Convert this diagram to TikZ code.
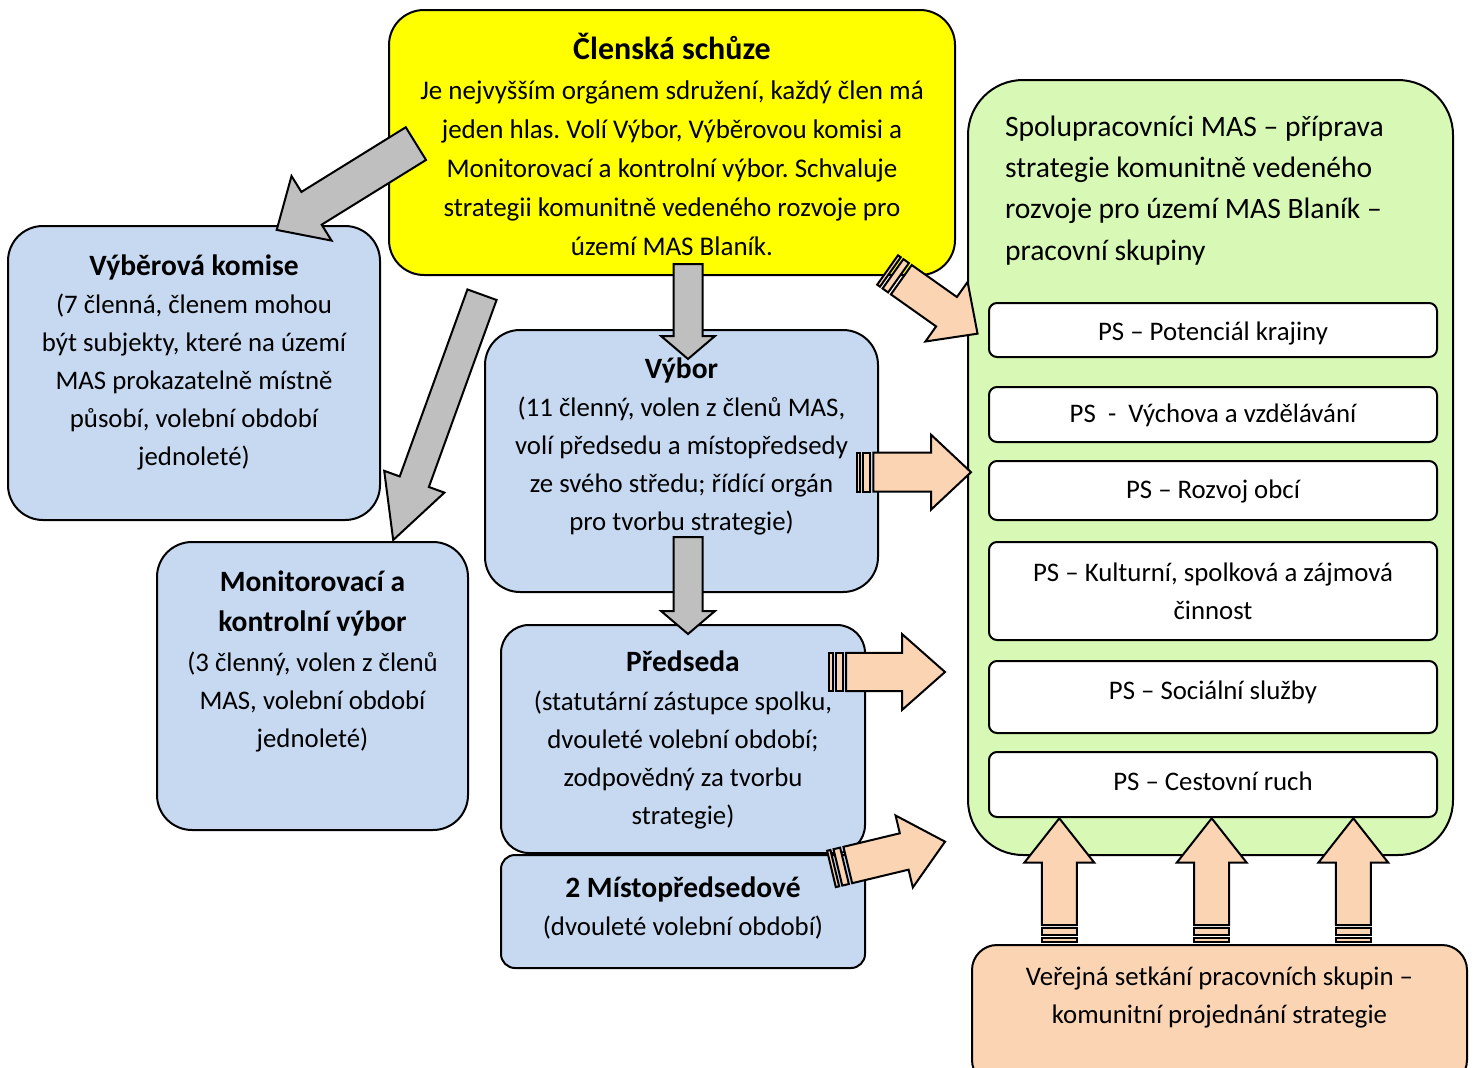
\documentclass[tikz,border=0pt]{standalone}
\usepackage{fontspec}
\setmainfont{Carlito}
\usetikzlibrary{positioning}
\frenchspacing

\definecolor{clyellow}{HTML}{FFFF00}
\definecolor{clblue}{HTML}{C6D9F1}
\definecolor{clgreen}{RGB}{216,249,181}
\definecolor{clpeach}{HTML}{FBD4B4}
\definecolor{clgray}{HTML}{BFBFBF}

% text set from the top of a box: height, width, top gap, text
\newcommand{\boxtext}[4]{\parbox[c][#1pt][t]{#2pt}{\centering\vspace{#3pt}\strut#4}}
\newcommand{\boxtitle}[1]{{\fontsize{29.5}{38}\selectfont\bfseries #1}}

\tikzset{
  box/.style={draw, line width=2pt, inner sep=0pt, font=\fontsize{26.8}{38}\selectfont},
  bluebox/.style={box, fill=clblue, rounded corners=35pt},
  psbox/.style={box, fill=white, rounded corners=8pt},
  garrow/.style={fill=clgray, line width=2pt},
  parrow/.style={fill=clpeach, line width=2pt},
  pics/blockarrow/.style n args={4}{code={
    \draw[pic actions] (0,-#2/2) -- (#1-#4,-#2/2) -- (#1-#4,-#3/2) -- (#1,0)
      -- (#1-#4,#3/2) -- (#1-#4,#2/2) -- (0,#2/2) -- cycle;
  }},
  pics/stripearrow/.style n args={4}{code={
    \draw[pic actions] (0,-#2/2) -- (#1-#4,-#2/2) -- (#1-#4,-#3/2) -- (#1,0)
      -- (#1-#4,#3/2) -- (#1-#4,#2/2) -- (0,#2/2) -- cycle;
    \draw[pic actions] (-3.4,-#2/2) rectangle (-10.2,#2/2);
    \draw[pic actions] (-13.4,-#2/2) rectangle (-16.8,#2/2);
  }}
}

\begin{document}
\begin{tikzpicture}[x=1pt,y=-1pt]
\useasboundingbox (0,0) rectangle (1475,1068);

% boxes
\node[box, fill=clyellow, rounded corners=35pt, font=\fontsize{27}{39}\selectfont] (schuze) at (672,142.5)
  {\boxtext{265}{566}{22.4}{{\fontsize{32}{39}\selectfont\bfseries Členská schůze}\\[1pt]
   Je nejvyšším orgánem sdružení, každý člen má\\
   jeden hlas. Volí Výbor, Výběrovou komisi a\\
   Monitorovací a kontrolní výbor. Schvaluje\\
   strategii komunitně vedeného rozvoje pro\\
   území MAS Blaník.}};
\node[bluebox] (komise) at (194,373)
  {\boxtext{294}{372}{22.9}{\boxtitle{Výběrová komise}\\
   (7 členná, členem mohou\\ být subjekty, které na území\\
   MAS prokazatelně místně\\ působí, volební období\\ jednoleté)}};
\node[bluebox] (kontrola) at (312.5,686)
  {\boxtext{288}{311}{22.9}{\boxtitle{Monitorovací a}\\[2pt] \boxtitle{kontrolní výbor}\\[2pt]
   (3 členný, volen z členů\\ MAS, volební období\\ jednoleté)}};
\node[bluebox] (vybor) at (681.5,461)
  {\boxtext{262}{393}{21.9}{\boxtitle{Výbor}\\
   (11 členný, volen z členů MAS,\\ volí předsedu a místopředsedy\\
   ze svého středu; řídící orgán\\ pro tvorbu strategie)}};
\node[bluebox, rounded corners=28pt] (predseda) at (683,739)
  {\boxtext{228}{364}{19.9}{\boxtitle{Předseda}\\[1pt]
   (statutární zástupce spolku,\\ dvouleté volební období;\\
   zodpovědný za tvorbu\\ strategie)}};
\node[bluebox, rounded corners=14pt] (mistopred) at (683,911.5)
  {\boxtext{113}{364}{15.9}{\boxtitle{2 Místopředsedové}\\ (dvouleté volební období)}};
\node[box, fill=clgreen, rounded corners=55pt, font=\fontsize{29.6}{41.3}\selectfont] (spoluprac) at (1210.5,467.5)
  {\parbox[c][775pt][t]{485pt}{\raggedright\leftskip=37pt\vspace{27.4pt}\strut
   Spolupracovníci MAS – příprava\\ strategie komunitně vedeného\\
   rozvoje pro území MAS Blaník –\\ pracovní skupiny}};

\foreach \name/\y/\h/\gap/\txt in {
  potencial/330/54/10.4/{PS – Potenciál krajiny},
  vychova/414.5/55/8.4/{PS~~-~~Výchova a vzdělávání},
  obce/490.5/59/10.4/{PS – Rozvoj obcí},
  kultura/591/98/12.4/{PS – Kulturní, spolková a zájmová\\ činnost},
  socialni/697/72/11.4/{PS – Sociální služby},
  ruch/784.5/65/11.4/{PS – Cestovní ruch}}
  \node[psbox] (\name) at (1213,\y) {\boxtext{\h}{448}{\gap}{\txt}};

% arrows
\pic[garrow, rotate=211.8] at (415.9,143.6) {blockarrow={163.8}{38.5}{76}{41}};
\pic[garrow, rotate=250.1] at (482,294.7) {blockarrow={260.9}{31}{64}{62}};
\pic[garrow, rotate=-90] at (688,264) {blockarrow={95}{29}{54}{23}};
\pic[garrow, rotate=-90] at (688,537) {blockarrow={97}{29}{54}{23}};

\pic[parrow, rotate=-35.3] at (901.3,279.7) {stripearrow={93.4}{36}{73}{38}};
\pic[parrow] at (873.3,472.2) {stripearrow={97.7}{39}{75}{40}};
\pic[parrow] at (846,672) {stripearrow={99}{38.3}{76}{43}};
\pic[parrow, rotate=13.5] at (847.8,865) {stripearrow={100}{37.4}{74}{42}};
\foreach \x in {1059.3,1211.7,1353.3}
  \pic[parrow, rotate=90] at (\x,925) {stripearrow={106.7}{35}{70}{44.4}};

\node[box, fill=clpeach, rounded corners=25pt] (setkani) at (1219.5,1015)
  {\boxtext{140}{495}{13.4}{Veřejná setkání pracovních skupin –\\
   komunitní projednání strategie}};
\end{tikzpicture}
\end{document}
